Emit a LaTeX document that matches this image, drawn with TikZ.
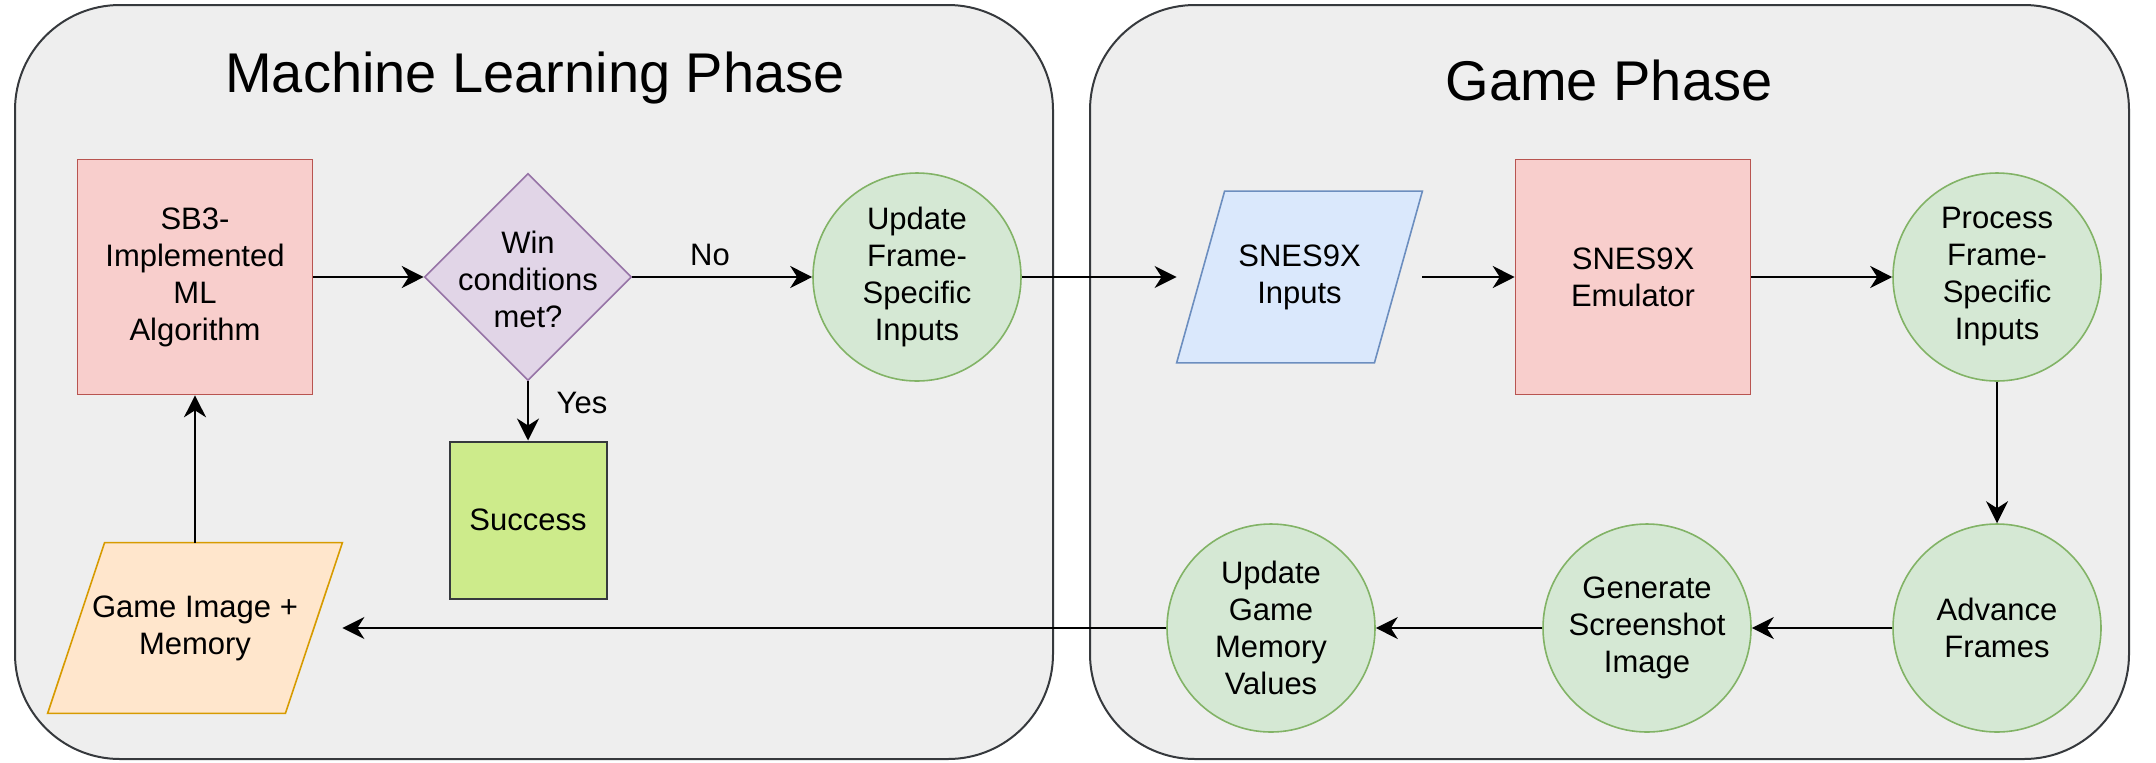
\documentclass[tikz,border=0pt]{standalone}
\usepackage{fontspec}
\setmainfont{Liberation Sans}
\usetikzlibrary{arrows.meta,shapes.geometric}
\definecolor{panelfill}{HTML}{EEEEEE}
\definecolor{panelline}{HTML}{36393D}
\definecolor{redfill}{HTML}{F8CECC}
\definecolor{redline}{HTML}{B85450}
\definecolor{greenfill}{HTML}{D5E8D4}
\definecolor{greenline}{HTML}{82B366}
\definecolor{purpfill}{HTML}{E1D5E7}
\definecolor{purpline}{HTML}{9673A6}
\definecolor{bluefill}{HTML}{DAE8FC}
\definecolor{blueline}{HTML}{6C8EBF}
\definecolor{orangefill}{HTML}{FFE6CC}
\definecolor{orangeline}{HTML}{D79B00}
\definecolor{limefill}{HTML}{CDEB8B}
\begin{document}
\begin{tikzpicture}[x=0.5pt,y=-0.5pt,
  panel/.style={draw=panelline, fill=panelfill, line width=1pt, rounded corners=52.5pt, inner sep=0pt, minimum height=377pt},
  body/.style={font=\fontsize{15.5pt}{18.5pt}\selectfont, align=center, text=black},
  redbox/.style={body, draw=redline, fill=redfill, line width=0.8pt, minimum width=117.5pt, minimum height=117.5pt, inner sep=0pt},
  procnode/.style={circle, body, draw=greenline, fill=greenfill, line width=0.8pt, minimum size=104pt, inner sep=0pt},
  decision/.style={diamond, draw=purpline, fill=purpfill, line width=0.8pt, minimum width=103.5pt, minimum height=103.5pt, inner sep=0pt},
  okbox/.style={body, draw=panelline, fill=limefill, line width=1pt, minimum width=78.5pt, minimum height=78.5pt, inner sep=0pt},
  iobox/.style={draw=none, inner sep=0pt},
  txt/.style={body, inner sep=0pt},
  flow/.style={-{Stealth[length=11pt,width=11pt,inset=3.5pt]}, line width=1pt, black},
  titletext/.style={font=\fontsize{28pt}{33pt}\selectfont, anchor=base, inner sep=0pt},
  lbl/.style={body, anchor=base, inner sep=0pt}
]
\fill[white] (0,0) rectangle (2156,762);
\useasboundingbox (0,0) rectangle (2156,762);

% panels
\node[panel, minimum width=519pt] (mlpanel) at (534,382) {};
\node[panel, minimum width=519.5pt] (gamepanel) at (1609.5,382) {};
\node[titletext] (mltitle) at (535,92) {Machine Learning Phase};
\node[titletext] (gametitle) at (1609,100) {Game Phase};

% ML phase
\node[redbox] (sb3) at (195,277) {SB3-\\Implemented\\ML\\Algorithm};
\node[decision] (win) at (528,277) {};
\node[txt] (wintext) at (528,279) {Win\\conditions\\met?};
\node[procnode] (upd) at (917,277) {Update\\Frame-\\Specific\\Inputs};
\node[okbox] (succ) at (528,520) {Success};

% Game Image + Memory parallelogram
\node[iobox, minimum width=147pt, minimum height=85pt] (gin) at (195,628) {};
\draw[draw=orangeline, fill=orangefill, line width=0.8pt]
  ([xshift=28.5pt]gin.north west) -- (gin.north east) -- ([xshift=-28.5pt]gin.south east) -- (gin.south west) -- cycle;
\node[txt] (gintext) at (gin) {Game Image +\\Memory};

% Game phase
\node[iobox, minimum width=122.5pt, minimum height=85.5pt] (sin) at (1299.5,277) {};
\draw[draw=blueline, fill=bluefill, line width=0.8pt]
  ([xshift=24pt]sin.north west) -- (sin.north east) -- ([xshift=-24pt]sin.south east) -- (sin.south west) -- cycle;
\node[txt] (sintext) at (sin) {SNES9X\\Inputs};
\node[redbox] (emu) at (1633,277) {SNES9X\\Emulator};
\node[procnode] (proc) at (1997,277) {Process\\Frame-\\Specific\\Inputs};
\node[procnode] (adv) at (1997,628) {Advance\\Frames};
\node[procnode] (gen) at (1647,628) {Generate\\Screenshot\\Image};
\node[procnode] (ugm) at (1271,628) {Update\\Game\\Memory\\Values};

% connectors
\draw[flow] (sb3.east) -- (win.west);
\draw[flow] (win.east) -- (upd.west);
\node[lbl] (nolabel) at (710,265) {No};
\draw[flow] (win.south) -- (succ.north);
\node[lbl] (yeslabel) at (582,413) {Yes};
\draw[flow] (upd.east) -- (sin.west);
\draw[flow] (sin.east) -- (emu.west);
\draw[flow] (emu.east) -- (proc.west);
\draw[flow] (proc.south) -- (adv.north);
\draw[flow] (adv.west) -- (gen.east);
\draw[flow] (gen.west) -- (ugm.east);
\draw[flow] (ugm.west) -- (gin.east);
\draw[flow] (gin.north) -- (sb3.south);
\end{tikzpicture}
\end{document}
